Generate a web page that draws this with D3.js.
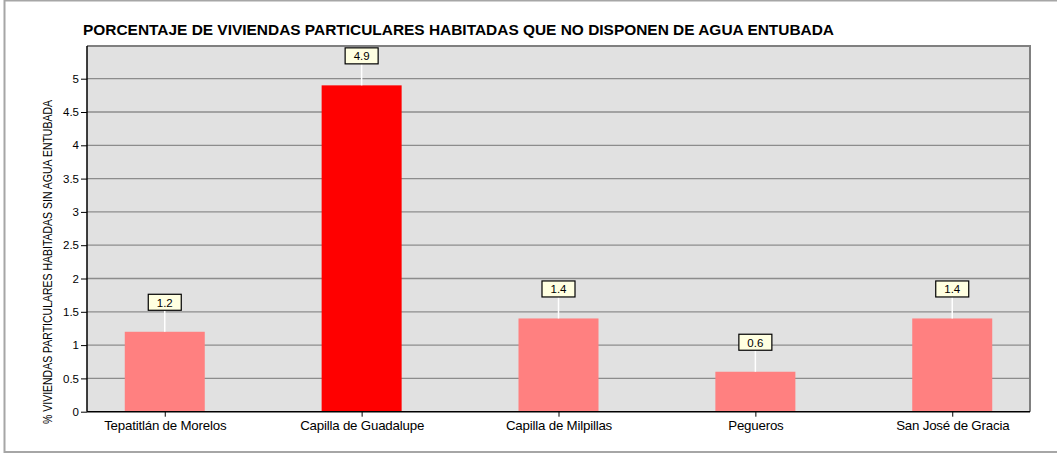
<!DOCTYPE html>
<html>
<head>
<meta charset="utf-8">
<script src="https://cdn.jsdelivr.net/npm/d3@7"></script>
<style>
  body { margin: 0; background: #fff; }
  svg { display: block; font-family: Arial, "Liberation Sans", sans-serif; }
</style>
</head>
<body>
<div id="chart"></div>
<script>
const categories = ['Tepatitlán de Morelos', 'Capilla de Guadalupe', 'Capilla de Milpillas', 'Pegueros', 'San José de Gracia'];
const values = [1.2, 4.9, 1.4, 0.6, 1.4];
const highlighted = ['Capilla de Guadalupe'];
const yTicks = [0, 0.5, 1, 1.5, 2, 2.5, 3, 3.5, 4, 4.5, 5];
const title = 'PORCENTAJE DE VIVIENDAS PARTICULARES HABITADAS QUE NO DISPONEN DE AGUA ENTUBADA';
const yLabel = '% VIVIENDAS PARTICULARES HABITADAS SIN AGUA ENTUBADA';

const width = 1057, height = 458;
const plot = { left: 87, right: 1030, top: 46, bottom: 411.7 };

const svg = d3.select('#chart').append('svg')
    .attr('width', width)
    .attr('height', height);

// outer frame
svg.append('rect')
    .attr('x', 4.5).attr('y', 0.5)
    .attr('width', 1060).attr('height', 451.5)
    .attr('fill', '#fff')
    .attr('stroke', '#a6a6a6')
    .attr('stroke-width', 2);

const x = d3.scalePoint()
    .domain(categories)
    .range([plot.left, plot.right])
    .padding(0.395);

const y = d3.scaleLinear()
    .domain([0, 5])
    .range([plot.bottom, 78.7]);

// plot background
svg.append('rect')
    .attr('x', plot.left).attr('y', plot.top)
    .attr('width', plot.right - plot.left)
    .attr('height', plot.bottom - plot.top)
    .attr('fill', '#e1e1e1');

// grid
svg.append('g')
    .selectAll('line')
    .data(yTicks.filter(d => d > 0))
    .join('line')
    .attr('x1', plot.left).attr('x2', plot.right)
    .attr('y1', d => y(d)).attr('y2', d => y(d))
    .attr('stroke', '#8c8c8c')
    .attr('stroke-width', 1.3);

// frame of plot (top/right gray)
svg.append('path')
    .attr('d', `M${plot.left},${plot.top}H${plot.right}V${plot.bottom}`)
    .attr('fill', 'none')
    .attr('stroke', '#808080')
    .attr('stroke-width', 2);

// bars
const barW = 80;
svg.append('g')
    .selectAll('rect')
    .data(categories)
    .join('rect')
    .attr('x', d => x(d) - barW / 2)
    .attr('width', barW)
    .attr('y', (d, i) => y(values[i]))
    .attr('height', (d, i) => y(0) - y(values[i]))
    .attr('fill', d => highlighted.includes(d) ? '#ff0000' : '#ff8080');

// y axis
const yAxis = d3.axisLeft(y)
    .tickValues(yTicks)
    .tickSize(6)
    .tickPadding(2)
    .tickFormat(d => String(d));

svg.append('g')
    .attr('transform', `translate(${plot.left},0)`)
    .call(yAxis)
    .call(g => g.select('.domain').attr('d', `M0,${plot.top}V${plot.bottom}`).attr('stroke', '#000').attr('stroke-width', 1.5))
    .call(g => g.selectAll('.tick line').attr('stroke', '#000'))
    .call(g => g.selectAll('.tick text').attr('font-size', 11.5).attr('fill', '#000').attr('font-family', 'Arial, "Liberation Sans", sans-serif'));

// x axis
const xAxis = d3.axisBottom(x)
    .tickSize(5)
    .tickPadding(4);

svg.append('g')
    .attr('transform', `translate(0,${plot.bottom})`)
    .call(xAxis)
    .call(g => g.select('.domain').attr('d', `M${plot.left},0H${plot.right}`).attr('stroke', '#000').attr('stroke-width', 1.5))
    .call(g => g.selectAll('.tick line').attr('stroke', '#000'))
    .call(g => g.selectAll('.tick text').attr('font-size', 13.3).attr('fill', '#000').attr('font-family', 'Arial, "Liberation Sans", sans-serif').attr('letter-spacing', -0.2));

// value labels
const labels = svg.append('g')
    .selectAll('g')
    .data(categories)
    .join('g')
    .attr('transform', (d, i) => `translate(${x(d)},${y(values[i])})`);

labels.append('line')
    .attr('y1', 0).attr('y2', -22)
    .attr('stroke', '#fff')
    .attr('stroke-width', 1.5);

labels.append('rect')
    .attr('x', -16.5).attr('y', -37.5)
    .attr('width', 33).attr('height', 16)
    .attr('fill', '#ffffe1')
    .attr('stroke', '#000')
    .attr('stroke-width', 1.2);

labels.append('text')
    .attr('y', -25)
    .attr('text-anchor', 'middle')
    .attr('font-size', 11.5)
    .text((d, i) => values[i]);

// title
svg.append('text')
    .attr('x', 83).attr('y', 35)
    .attr('font-size', 15)
    .attr('font-weight', 'bold')
    .attr('textLength', 751)
    .attr('lengthAdjust', 'spacingAndGlyphs')
    .text(title);

// y label
svg.append('text')
    .attr('transform', `translate(52,${(100 + 424) / 2}) rotate(-90)`)
    .attr('text-anchor', 'middle')
    .attr('font-size', 12.5)
    .attr('textLength', 324)
    .attr('lengthAdjust', 'spacingAndGlyphs')
    .text(yLabel);
</script>
</body>
</html>
